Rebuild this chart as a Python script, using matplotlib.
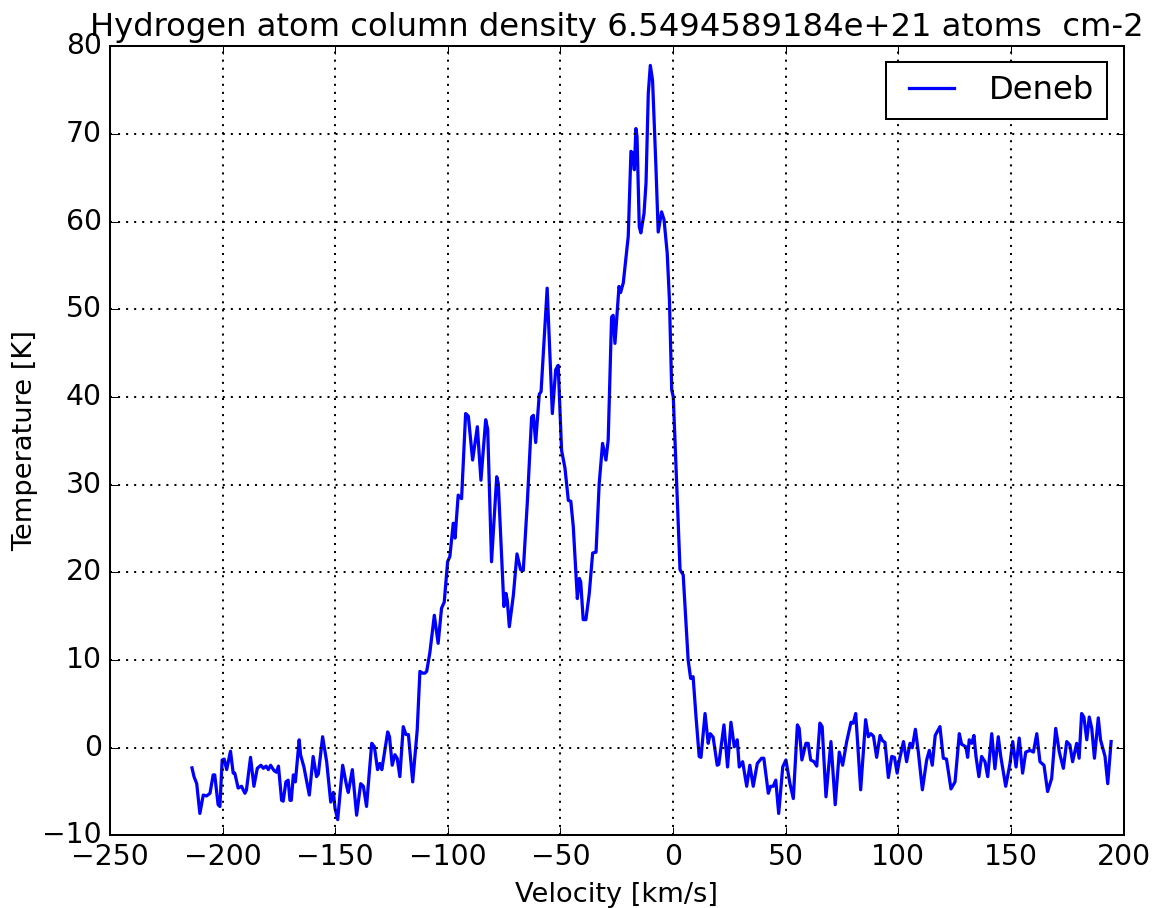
import matplotlib
matplotlib.use("Agg")
import matplotlib.pyplot as plt

plt.style.use("classic")
plt.rcParams['font.family'] = ['DejaVu Sans']
plt.rcParams['font.size'] = 13.5

title = "Hydrogen atom column density 6.5494589184e+21 atoms  cm-2"
series_label = "Deneb"
x_label = "Velocity [km/s]"
y_label = "Temperature [K]"

velocity = [
    -213.6, -212.7, -211.5, -210.1, -208.6, -207.1, -205.6, -204.2, -203.5, -202.0,
    -201.2, -200.2, -199.3, -198.2, -196.5, -195.3, -194.6, -193.1, -191.6, -190.1,
    -189.4, -187.6, -186.1, -184.6, -183.0, -181.9, -180.7, -179.7, -178.7, -177.2,
    -176.1, -175.2, -173.8, -173.1, -171.9, -170.9, -170.1, -169.5, -168.6, -167.7,
    -166.0, -165.4, -163.9, -161.5, -159.8, -158.3, -157.5, -155.6, -153.8, -152.0,
    -150.8, -150.1, -148.9, -146.7, -144.9, -144.2, -142.4, -140.5, -138.7, -137.5,
    -136.1, -133.8, -132.6, -131.2, -130.2, -129.3, -126.7, -125.9, -124.7, -123.5,
    -122.5, -121.3, -119.8, -118.6, -117.5, -115.6, -113.6, -112.4, -111.2, -110.2,
    -109.4, -108.0, -106.0, -104.3, -102.8, -101.6, -100.1, -99.1, -97.6, -96.8,
    -95.4, -93.9, -92.1, -90.9, -89.0, -86.9, -85.3, -83.2, -82.3, -80.6,
    -78.3, -77.6, -75.1, -74.2, -73.6, -72.7, -70.9, -69.3, -67.7, -66.5,
    -64.7, -62.8, -62.0, -61.0, -59.4, -58.6, -55.9, -53.6, -52.1, -51.0,
    -49.5, -48.0, -46.5, -45.4, -44.3, -42.5, -41.6, -41.0, -39.9, -38.7,
    -37.2, -35.7, -34.2, -32.8, -31.3, -29.8, -28.8, -27.3, -26.6, -25.8,
    -24.0, -23.3, -22.1, -19.9, -18.7, -17.9, -17.2, -16.5, -16.0, -15.0,
    -14.3, -12.9, -12.0, -11.0, -10.1, -9.1, -7.6, -6.6, -5.1, -4.0,
    -2.6, -1.6, -0.6, 0.1, 1.9, 3.1, 4.5, 6.7, 7.8, 8.9,
    10.2, 11.6, 12.4, 14.2, 15.6, 16.5, 17.8, 19.6, 20.3, 22.6,
    24.2, 25.7, 27.2, 28.5, 29.4, 30.9, 32.7, 34.1, 35.6, 37.4,
    39.3, 40.3, 42.3, 43.3, 44.5, 45.6, 46.9, 48.7, 50.1, 51.9,
    53.4, 55.2, 56.0, 57.2, 59.0, 60.0, 61.1, 62.6, 63.8, 65.2,
    66.2, 67.9, 70.1, 72.0, 73.8, 75.3, 77.1, 79.0, 80.0, 81.1,
    83.3, 85.5, 86.7, 87.8, 89.0, 90.4, 91.9, 93.0, 94.1, 95.6,
    97.1, 98.3, 99.5, 100.5, 102.3, 103.7, 105.2, 106.2, 107.6, 108.9,
    110.7, 112.6, 113.8, 115.1, 116.4, 118.5, 120.0, 121.4, 123.4, 125.2,
    127.1, 128.1, 130.0, 130.8, 131.5, 132.6, 133.6, 134.5, 135.8, 137.0,
    138.5, 139.7, 141.5, 142.9, 144.4, 145.5, 147.7, 149.6, 150.8, 152.3,
    153.7, 155.2, 156.6, 158.5, 160.0, 161.5, 162.9, 164.7, 166.3, 168.1,
    169.9, 171.5, 173.3, 174.8, 176.2, 177.4, 179.2, 180.3, 181.4, 182.4,
    183.7, 184.8, 185.9, 187.1, 188.8, 189.8, 191.8, 193.0, 194.5,
]

temperature = [
    -2.3, -3.3, -4.1, -7.5, -5.4, -5.5, -5.2, -3.1, -3.1, -6.5,
    -6.7, -1.4, -1.3, -2.5, -0.4, -2.9, -2.9, -4.6, -4.4, -5.2,
    -4.8, -1.1, -4.4, -2.35, -2.0, -2.35, -2.1, -2.5, -2.0, -2.6,
    -2.8, -2.1, -6.0, -6.1, -3.9, -3.7, -6.0, -6.0, -3.1, -3.9,
    0.9, -0.8, -2.2, -5.4, -1.0, -3.3, -3.0, 1.25, -1.6, -6.2,
    -5.1, -6.9, -8.2, -2.0, -4.4, -5.1, -2.5, -7.7, -4.1, -4.4,
    -6.7, 0.5, 0.1, -2.5, -1.8, -2.5, 1.8, 1.25, -2.0, -0.8,
    -1.2, -3.3, 2.4, 1.5, 1.5, -3.9, 2.0, 8.7, 8.5, 8.5,
    8.7, 10.8, 15.1, 11.9, 15.9, 16.6, 21.2, 21.8, 25.6, 23.9,
    28.8, 28.4, 38.1, 37.8, 32.8, 36.6, 30.5, 37.4, 36.3, 21.2,
    30.9, 30.1, 16.1, 17.6, 16.8, 13.8, 17.4, 22.1, 20.3, 20.2,
    28.0, 37.7, 37.9, 34.8, 40.3, 40.6, 52.4, 38.1, 43.1, 43.6,
    33.9, 31.9, 28.2, 28.1, 25.2, 17.0, 19.3, 18.9, 14.6, 14.6,
    17.6, 22.2, 22.3, 30.1, 34.7, 32.8, 35.1, 49.1, 49.3, 46.1,
    52.6, 51.9, 53.0, 58.3, 68.0, 67.8, 65.9, 70.6, 69.7, 59.4,
    58.7, 60.9, 64.4, 74.6, 77.8, 76.1, 66.2, 58.8, 61.1, 60.2,
    56.4, 51.0, 40.8, 40.0, 28.2, 20.3, 19.7, 10.0, 7.9, 8.1,
    3.5, -1.0, -1.1, 3.9, 0.5, 1.6, 1.2, -2.0, -1.9, 2.6,
    -2.2, 2.9, 0.1, 0.9, -2.2, -1.6, -4.4, -2.0, -4.4, -1.8,
    -1.2, -1.2, -5.2, -4.4, -4.4, -3.7, -7.5, -2.2, -1.4, -4.1,
    -5.8, 2.6, 2.2, -1.4, 0.5, 0.5, -1.4, -1.6, -2.1, 2.8,
    2.4, -5.6, 0.7, -6.5, -0.5, -2.0, 0.7, 2.9, 2.8, 3.9,
    -4.8, 3.2, 1.25, 1.6, 1.3, -1.1, 1.4, 0.8, 0.6, -3.4,
    -1.0, -1.1, -2.9, -1.4, 0.7, -1.6, 0.5, 0.0, 2.1, -0.5,
    -4.8, -1.4, -0.3, -2.0, 1.4, 2.4, -1.2, -1.3, -4.7, -3.9,
    1.6, 0.4, 0.1, -1.1, 0.9, 0.5, 1.4, -1.0, -3.3, -1.0,
    -1.6, -3.3, 1.6, -2.4, 1.25, -1.0, -4.4, -1.8, 0.7, -2.2,
    1.1, -2.9, -0.5, -0.3, -0.5, 1.6, -1.6, -2.0, -5.0, -3.5,
    2.2, -0.5, -2.35, 0.7, 0.3, -1.6, 0.5, -1.2, 3.9, 3.5,
    0.9, 3.5, 2.2, -1.2, 3.4, 0.9, -1.0, -4.1, 0.7,
]

x_ticks = [-250, -200, -150, -100, -50, 0, 50, 100, 150, 200]
y_ticks = [-10, 0, 10, 20, 30, 40, 50, 60, 70, 80]

fig = plt.figure(figsize=(8.0, 908 / 145), dpi=145)
fig.patch.set_facecolor("white")
ax = fig.add_axes([110 / 1160, 1 - 835.4 / 908, (1123.5 - 110) / 1160, (835.4 - 46.1) / 908])
ax.plot(velocity, temperature, color="#0000ff", lw=1.6, label=series_label)
ax.set_xlim(-250, 200)
ax.set_ylim(-10, 80)
ax.set_xticks(x_ticks)
ax.set_yticks(y_ticks)
ax.tick_params(axis="both", which="major", labelsize=14)
ax.grid(True, color="k", linestyle=":", linewidth=1.0)
ax.set_xlabel(x_label, fontsize=13.5)
ax.set_ylabel(y_label, fontsize=13.5)
ax.yaxis.set_label_coords(-0.071, 0.5)
ax.set_title(title, fontsize=16)
leg = ax.legend(loc="upper right", fancybox=False, framealpha=1.0, fontsize=16)
leg.get_frame().set_edgecolor("black")
fig.savefig("out.png", dpi=145, facecolor="white")
